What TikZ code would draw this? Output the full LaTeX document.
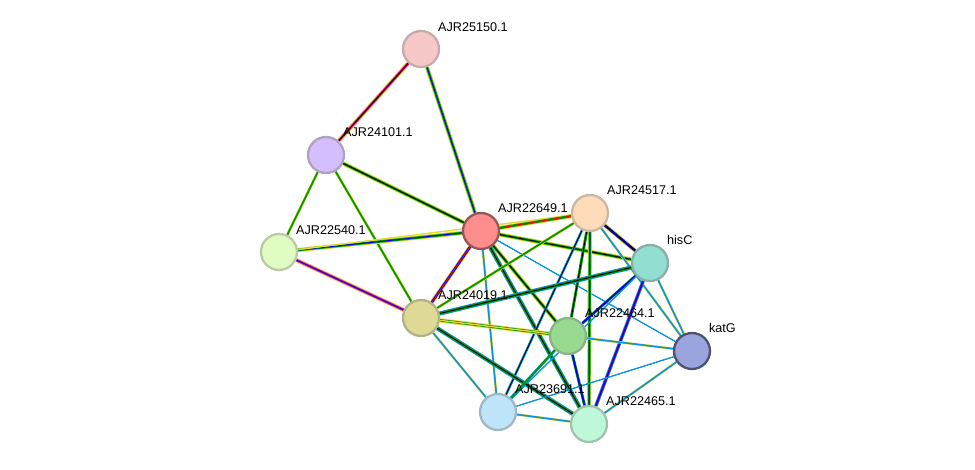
\documentclass[tikz,border=0pt]{standalone}
\usepackage{fontspec}
\setsansfont{Liberation Sans}
\usetikzlibrary{positioning}
\pgfdeclarelayer{background}
\pgfsetlayers{background,main}

\definecolor{cpink}{RGB}{247,200,200}
\definecolor{clav}{RGB}{212,190,252}
\definecolor{clime}{RGB}{224,252,192}
\definecolor{cred}{RGB}{254,142,142}
\definecolor{cpeach}{RGB}{254,220,186}
\definecolor{cteal}{RGB}{146,222,208}
\definecolor{ckhaki}{RGB}{222,218,150}
\definecolor{cgreen}{RGB}{152,218,144}
\definecolor{cblue}{RGB}{154,164,222}
\definecolor{csky}{RGB}{190,228,250}
\definecolor{cmint}{RGB}{190,248,216}
\colorlet{ey}{yellow!75!gray}
\colorlet{eg}{green!60!black}
\colorlet{ec}{cyan!80!blue}

\tikzset{
  prot/.style={circle, minimum size=0.72cm, line width=1.3pt, inner sep=0pt},
  lbl/.style={font=\sffamily\fontsize{7.2}{8}\selectfont, inner sep=1pt},
}

\begin{document}
\begin{tikzpicture}[x=0.02cm,y=-0.02cm]
    \useasboundingbox (0,0) rectangle (975,470);
    % proteins
    \node[prot, fill=cpink, draw=cpink!60!gray] (p25150) at (421,49) {};
    \node[prot, fill=clav, draw=clav!55!gray] (p24101) at (326,155) {};
    \node[prot, fill=clime, draw=clime!60!gray] (p22540) at (279,252) {};
    \node[prot, fill=cred, draw=cred!60!black] (p22649) at (481,231) {};
    \node[prot, fill=cpeach, draw=cpeach!60!gray] (p24517) at (590,213) {};
    \node[prot, fill=cteal, draw=cteal!50!gray] (hisC) at (650,263) {};
    \node[prot, fill=ckhaki, draw=ckhaki!55!gray] (p24019) at (421,318) {};
    \node[prot, fill=cgreen, draw=cgreen!55!gray] (p22464) at (568,336) {};
    \node[prot, fill=cblue, draw=cblue!50!black] (katG) at (692,351) {};
    \node[prot, fill=csky, draw=csky!55!gray] (p23691) at (498,412) {};
    \node[prot, fill=cmint, draw=cmint!55!gray] (p22465) at (589,424) {};
    % labels
    \node[lbl, anchor=south west] at (436,34) {AJR25150.1};
    \node[lbl, anchor=south west] at (341,139) {AJR24101.1};
    \node[lbl, anchor=south west] at (294,237) {AJR22540.1};
    \node[lbl, anchor=south west] at (496,215) {AJR22649.1};
    \node[lbl, anchor=south west] at (605,197) {AJR24517.1};
    \node[lbl, anchor=south west] at (665,247) {hisC};
    \node[lbl, anchor=south west] at (436,302) {AJR24019.1};
    \node[lbl, anchor=south west] at (583,320) {AJR22464.1};
    \node[lbl, anchor=south west] at (707,335) {katG};
    \node[lbl, anchor=south west] at (513,396) {AJR23691.1};
    \node[lbl, anchor=south west] at (604,408) {AJR22465.1};
    % interactions
    \begin{pgfonlayer}{background}
    \foreach \s/\t/\ca/\cb/\cc/\w in {
        p25150/p24101/ey/magenta/black/2.4,
        p25150/p22649/ey/eg/blue/2.4,
        p24101/p22540/ey/eg/eg/1.6,
        p24101/p22649/ey/eg/black/2.4,
        p24101/p24019/ey/eg/eg/1.6,
        p22540/p22649/ey/eg/blue/2.4,
        p22540/p24019/ey/magenta/blue/2.4,
        p22540/p24517/ey/ey/ey/0.6,
        p22649/p24517/ey/eg/red/2.4,
        p22649/hisC/ey/eg/black/2.4,
        p22649/p24019/ey/blue/red/2.4,
        p22649/p22464/ey/eg/black/2.4,
        p22649/p22465/ec/eg/black/2.4,
        p22649/p23691/ey/ec/ec/1.4,
        p22649/katG/ec/ec/ec/0.6,
        p24517/hisC/ey/blue/black/2.4,
        p24517/p24019/ey/eg/eg/1.6,
        p24517/p22464/eg/eg/black/1.6,
        p24517/p22465/ey/eg/blue/2.4,
        p24517/p23691/ec/ec/black/1.4,
        p24517/katG/ey/ec/ec/1.4,
        hisC/p24019/ec/eg/black/2.4,
        hisC/p22464/eg/blue/blue/1.6,
        hisC/p22465/ec/violet/blue/2.0,
        hisC/katG/ey/ec/ec/1.4,
        hisC/p23691/ec/ec/ec/0.6,
        p24019/p22464/ey/eg/black/2.4,
        p24019/p22465/ec/eg/black/2.4,
        p24019/p23691/ey/ec/ec/1.4,
        p24019/katG/ey/ey/ey/0.6,
        p22464/katG/ey/ec/ec/1.4,
        p22464/p23691/ec/eg/eg/1.6,
        p22464/p22465/eg/blue/blue/1.6,
        p23691/p22465/ey/ec/ec/1.4,
        p23691/katG/ec/ec/ec/0.6,
        katG/p22465/ey/ec/ec/1.4}{
        \draw[line width=\w pt, \ca] (\s) -- (\t);
        \draw[line width=0.6*\w pt, \cb] (\s) -- (\t);
        \draw[line width=0.5pt, \cc] (\s) -- (\t);
    }
    \end{pgfonlayer}
\end{tikzpicture}
\end{document}
